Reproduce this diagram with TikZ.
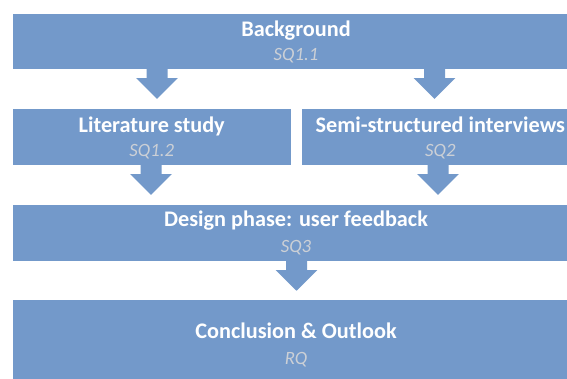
\documentclass[tikz,border=0pt]{standalone}
\usepackage{fontspec}
\setmainfont{Carlito}
\usepackage{tikz}
\usetikzlibrary{positioning}
\definecolor{boxblue}{RGB}{115,153,202}
\definecolor{subgray}{RGB}{204,208,214}
\newcommand\blockarrow[1]{%
  \fill[flow] (#1) +(-10.5,0) -- +(-10.5,9.4) -- +(-20.8,9.4) -- +(0,30)
    -- +(20.8,9.4) -- +(10.5,9.4) -- +(10.5,0) -- cycle;}

\begin{document}
\begin{tikzpicture}[x=0.03cm, y=-0.03cm,
    box/.style={fill=boxblue, draw=none, inner sep=0pt, anchor=north west},
    flow/.style={fill=boxblue},
    title/.style={text=white, anchor=base, font=\fontsize{19}{23}\selectfont\bfseries},
    sub/.style={text=subgray, anchor=base, font=\fontsize{16}{19}\selectfont\itshape}]
  \clip (0,0) rectangle (567,378);
  \fill[white] (0,0) rectangle (567,378);
  % boxes
  \node[box, minimum width=16.99cm, minimum height=1.65cm] (bg) at (12.7,13.3) {};
  \node[box, minimum width=8.34cm, minimum height=1.68cm] (lit) at (12.7,108.3) {};
  \node[box, minimum width=8.32cm, minimum height=1.68cm] (ssi) at (301.7,108.3) {};
  \node[box, minimum width=16.99cm, minimum height=1.67cm] (design) at (12.7,204.6) {};
  \node[box, minimum width=16.99cm, minimum height=3cm] (concl) at (12.7,300) {};
  % texts
  \node[title] (bg-t) at (296,36) {Background};
  \node[sub] (bg-s) at (296,60) {SQ1.1};
  \node[title] (lit-t) at (151.7,132.7) {Literature study};
  \node[sub] (lit-s) at (151.7,156.7) {SQ1.2};
  \node[title] (ssi-t) at (440.3,132.7) {Semi-structured interviews};
  \node[sub] (ssi-s) at (440.3,156.7) {SQ2};
  \node[title] (design-t) at (296,226.7) {Design phase: user feedback};
  \node[sub] (design-s) at (296,252.3) {SQ3};
  \node[title] (concl-t) at (296,338.3) {Conclusion \& Outlook};
  \node[sub] (concl-s) at (296,364) {RQ};
  % arrows
  \blockarrow{bg.south -| 157,0}
  \blockarrow{bg.south -| 434.5,0}
  \blockarrow{lit.south -| 151,0}
  \blockarrow{ssi.south -| 438,0}
  \blockarrow{design.south -| 296.5,0}
\end{tikzpicture}
\end{document}
